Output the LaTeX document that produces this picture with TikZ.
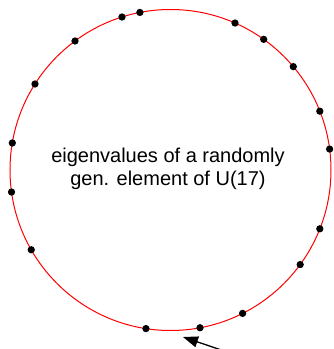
\documentclass[tikz,border=0pt]{standalone}
\usepackage{fontspec}
\setmainfont{Liberation Sans}
\usetikzlibrary{arrows.meta}
\tikzset{
	eigennode/.style={
			circle,
			fill=black,
			minimum size=7.3pt,
			inner sep=0pt
		},
	unitcircle/.style={
			draw=red,
			line width=1pt
		},
	labelnode/.style={
			align=center,
			font=\fontsize{20}{23.5}\selectfont
		},
	pointer/.style={
			line width=1.3pt,
			-{Triangle[length=15pt,width=11pt]}
		}
}

\begin{document}
\begin{tikzpicture}[x=1pt,y=1pt]
\useasboundingbox (0,0) rectangle (334,349);
\begin{scope}[shift={(170.5,179)}]
\coordinate (cO) at (0,0);
\draw[unitcircle] (cO) circle (160.5);

\node[eigennode] (e1) at (7.5:160.5) {};
\node[eigennode] (e2) at (21.5:160.5) {};
\node[eigennode] (e3) at (40.1:160.5) {};
\node[eigennode] (e4) at (54.5:160.5) {};
\node[eigennode] (e5) at (66.3:160.5) {};
\node[eigennode] (e6) at (101.0:160.5) {};
\node[eigennode] (e7) at (107.6:160.5) {};
\node[eigennode] (e8) at (126.5:160.5) {};
\node[eigennode] (e9) at (147.6:160.5) {};
\node[eigennode] (e10) at (170.3:160.5) {};
\node[eigennode] (e11) at (187.9:160.5) {};
\node[eigennode] (e12) at (209.8:160.5) {};
\node[eigennode] (e13) at (261.2:160.5) {};
\node[eigennode] (e14) at (280.6:160.5) {};
\node[eigennode] (e15) at (296.7:160.5) {};
\node[eigennode] (e16) at (323.9:160.5) {};
\node[eigennode] (e17) at (338.5:160.5) {};

\node[labelnode] (tLabel) at (-2.5,1) {eigenvalues of a randomly\\gen. element of U(17)};

\coordinate (cTail) at (65.5,-185);
\coordinate (cTip) at (12.5,-167);
\draw[pointer] (cTail) -- (cTip);
\end{scope}
\end{tikzpicture}
\end{document}
